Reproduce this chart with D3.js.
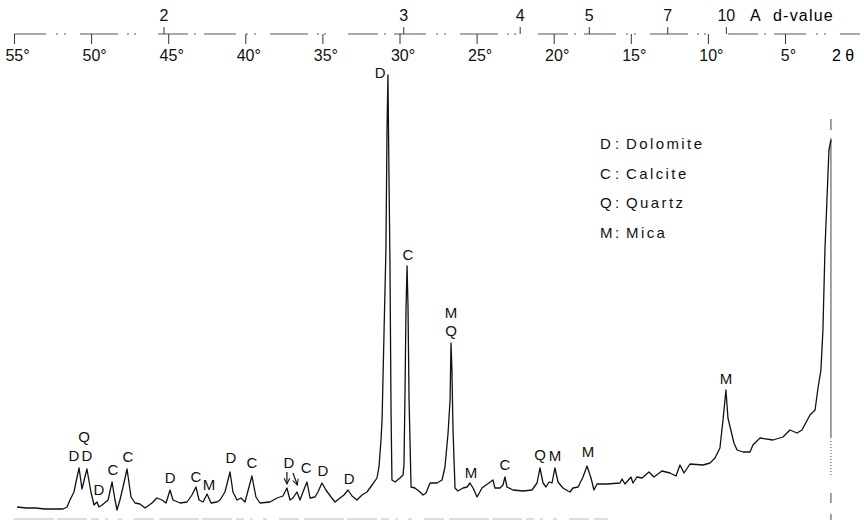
<!DOCTYPE html>
<html>
<head>
<meta charset="utf-8">
<script src="https://cdn.jsdelivr.net/npm/d3@7"></script>
<style>
  body { margin: 0; background: #fff; }
  svg { display: block; font-family: "Liberation Sans", Arial, sans-serif; }
  .axis text { font-size: 16px; fill: #111; }
  .axis line { stroke: #333; }
  .peak { font-size: 15px; fill: #111; text-anchor: middle; }
  .legend text { font-size: 15px; fill: #111; }
</style>
</head>
<body>
<div class="chart"></div>
<script>
// diffractogram: 2θ (deg, Cu Kα) and relative intensity
const twoTheta = [
  54.8, 54.2, 53.6, 53.0, 52.4, 51.82, 51.56, 51.37, 51.11, 50.95, 50.78, 50.59, 50.45, 50.27,
  50.01, 49.81, 49.62, 49.49, 49.29, 48.90, 48.64, 48.45, 48.32, 48.13, 47.93, 47.67, 47.41,
  47.15, 46.83, 46.50, 46.05, 45.73, 45.40, 45.14, 44.88, 44.69, 44.23, 43.78, 43.46, 43.20,
  43.00, 42.74, 42.48, 42.22, 41.84, 41.64, 41.32, 40.99, 40.80, 40.54, 40.28, 40.02, 39.76,
  39.57, 39.31, 39.05, 38.40, 37.94, 37.56, 37.30, 37.10, 36.91, 36.65, 36.45, 36.26, 36.00,
  35.80, 35.48, 35.29, 35.03, 34.77, 34.44, 34.18, 33.86, 33.60, 33.34, 33.08, 32.76, 32.43,
  32.11, 31.78, 31.46, 31.33, 31.20, 31.13, 31.00, 30.88, 30.81, 30.75, 30.68, 30.62, 30.55,
  30.49, 30.29, 29.97, 29.77, 29.71, 29.64, 29.58, 29.51, 29.45, 29.38, 29.25, 29.00, 28.67,
  28.48, 28.28, 28.02, 27.57, 27.24, 27.05, 26.85, 26.72, 26.66, 26.60, 26.53, 26.40, 26.21,
  25.88, 25.62, 25.43, 25.23, 24.97, 24.65, 24.39, 24.20, 23.94, 23.81, 23.48, 23.29, 23.16,
  23.03, 22.64, 21.99, 21.41, 21.08, 20.89, 20.69, 20.50, 20.30, 20.11, 19.92, 19.72, 19.40,
  19.07, 18.94, 18.75, 18.42, 18.10, 17.84, 17.58, 17.39, 17.19, 16.54, 15.70, 15.57, 15.38,
  14.99, 14.86, 14.60, 14.27, 13.82, 13.50, 12.98, 12.46, 12.07, 11.81, 11.55, 11.16, 10.32,
  9.86, 9.54, 9.22, 9.02, 8.83, 8.70, 8.31, 8.11, 7.72, 7.27, 7.08, 6.62, 5.78, 5.13, 4.68,
  4.22, 3.90, 3.38, 3.05, 2.86, 2.67, 2.54, 2.41, 2.28, 2.15, 2.02
];
const intensity = [
  3, 2, 2, 1, 1, 1, 3, 10, 18, 30, 42, 21, 30, 41,
  18, 5, 8, 3, 5, 10, 28, 10, 0, 10, 23, 41, 13,
  7, 6, 2, 7, 12, 10, 7, 20, 10, 7, 8, 15, 23,
  10, 8, 16, 7, 8, 10, 18, 38, 18, 10, 12, 8, 23,
  34, 13, 7, 8, 12, 14, 22, 10, 12, 18, 10, 18, 28,
  12, 13, 18, 27, 20, 13, 8, 12, 15, 20, 14, 10, 15,
  18, 25, 32, 43, 70, 90, 180, 260, 380, 435, 330, 250, 100,
  30, 28, 32, 35, 45, 120, 200, 244, 205, 110, 23, 22, 18,
  15, 17, 27, 27, 30, 43, 77, 110, 167, 140, 80, 22, 19,
  22, 23, 27, 22, 13, 22, 25, 27, 30, 22, 22, 25, 33,
  23, 20, 19, 20, 27, 42, 27, 23, 28, 27, 42, 28, 22,
  19, 18, 22, 23, 33, 44, 32, 20, 26, 26, 27, 31, 26,
  33, 27, 33, 32, 38, 33, 39, 37, 34, 45, 37, 46, 45,
  47, 52, 62, 90, 120, 92, 67, 60, 58, 58, 65, 72, 70, 73, 80,
  77, 80, 95, 100, 122, 140, 180, 260, 310, 360, 370
];

// axis ticks
const degreeTicks = [55, 50, 45, 40, 35, 30, 25, 20, 15, 10, 5];
const dTicks = [2, 3, 4, 5, 7, 10];   // Å
const scanStart = 2.02;

// peak labels: mineral letter, 2θ, intensity of the text baseline
const peakText = ["Q", "D", "D", "D", "C", "C", "D", "C", "M", "D", "C", "D", "C", "D", "D",
                  "D", "C", "M", "Q", "M", "C", "Q", "M", "M", "M"];
const peakPos = [50.46, 51.11, 50.27, 49.49, 48.58, 47.61, 44.88, 43.20, 42.35, 40.93, 39.57,
                 37.17, 36.06, 34.96, 33.27, 31.26, 29.45, 26.66, 26.66, 25.36, 23.16, 20.89,
                 19.92, 17.78, 8.83];
const peakLevel = [68, 49, 49, 15, 35, 48, 27, 28, 20, 47, 42, 42, 37, 34, 26, 432, 250, 192,
                   174, 32, 40, 50, 49, 53, 126];

// the two arrows under "D" near 37°: [from 2θ, from I, to 2θ, to I]
const arrows = [[37.30, 38, 37.30, 26], [36.91, 37, 36.62, 25]];

const legendKey = ["D", "C", "Q", "M"];
const legendName = ["Dolomite", "Calcite", "Quartz", "Mica"];

const width = 864, height = 521;
const lambda = 1.5406;
const braggAngle = d => 2 * Math.asin(lambda / (2 * d)) * 180 / Math.PI;

const svg = d3.select(".chart").append("svg")
    .attr("width", width)
    .attr("height", height);

const x = d3.scaleLinear().domain([55, 5]).range([14, 785]);
const y = d3.scaleLinear().domain([0, 440]).range([510, 70]);
const axisY = 34;

svg.append("defs").append("marker")
    .attr("id", "arrow")
    .attr("viewBox", "0 0 10 10")
    .attr("refX", 9).attr("refY", 5)
    .attr("markerWidth", 6).attr("markerHeight", 6)
    .attr("orient", "auto")
    .append("path")
    .attr("d", "M1,1 L9,5 L1,9")
    .attr("fill", "none")
    .attr("stroke", "#111")
    .attr("stroke-width", 1.4);

// broken axis line (scanned look)
svg.append("line")
    .attr("x1", x(55)).attr("x2", width - 4)
    .attr("y1", axisY).attr("y2", axisY)
    .attr("stroke", "#555")
    .attr("stroke-width", 1)
    .attr("stroke-dasharray", "32,10,2,6,2,14,38,9,2,5,2,22,30,6,2,8");

const gDeg = svg.append("g")
    .attr("class", "axis")
    .attr("transform", "translate(0," + axisY + ")")
    .call(d3.axisBottom(x)
        .tickValues(degreeTicks)
        .tickSize(10)
        .tickPadding(6)
        .tickFormat(d => d + "°"));
gDeg.select(".domain").remove();
gDeg.selectAll(".tick text").attr("dx", 3);

const gD = svg.append("g")
    .attr("class", "axis")
    .attr("transform", "translate(0," + axisY + ")")
    .call(d3.axisTop(x)
        .tickValues(dTicks.map(braggAngle))
        .tickSize(7)
        .tickPadding(6)
        .tickFormat((v, i) => dTicks[i]));
gD.select(".domain").remove();

svg.append("text")
    .attr("x", 750).attr("y", 21)
    .style("font-size", "16px")
    .text("A");
svg.append("text")
    .attr("x", 773).attr("y", 21)
    .style("font-size", "16px")
    .style("letter-spacing", "1.2px")
    .text("d-value");

svg.append("text")
    .attr("x", 832).attr("y", 61)
    .style("font-size", "16px")
    .text("2 θ");

// bottom scanned edge and scan-start marker
svg.append("line")
    .attr("x1", x(55)).attr("x2", x(16.5))
    .attr("y1", 519).attr("y2", 519)
    .attr("stroke", "#bbb")
    .attr("stroke-width", 1)
    .attr("stroke-dasharray", "40,3,30,4,8,6,3,10,4,12,20,5");

svg.append("line")
    .attr("x1", x(scanStart)).attr("x2", x(scanStart))
    .attr("y1", 119).attr("y2", 520)
    .attr("stroke", "#444")
    .attr("stroke-width", 1)
    .attr("stroke-dasharray", "11,8,300,3,1,2,1,2,1,2,1,2,1,2,1,2,1,2,1,2,1,2,1,2,1,2,1,18,10");

// spectrum
const line = d3.line()
    .x((d, i) => x(twoTheta[i]))
    .y((d, i) => y(intensity[i]));

svg.append("path")
    .datum(intensity)
    .attr("d", line)
    .attr("fill", "none")
    .attr("stroke", "#111")
    .attr("stroke-width", 1.3)
    .attr("stroke-linejoin", "round");

svg.append("g")
    .selectAll("text")
    .data(peakText)
    .join("text")
    .attr("class", "peak")
    .attr("x", (d, i) => x(peakPos[i]))
    .attr("y", (d, i) => y(peakLevel[i]))
    .text(d => d);

svg.append("g")
    .selectAll("line")
    .data(arrows)
    .join("line")
    .attr("x1", d => x(d[0])).attr("y1", d => y(d[1]))
    .attr("x2", d => x(d[2])).attr("y2", d => y(d[3]))
    .attr("stroke", "#111")
    .attr("stroke-width", 1.2)
    .attr("marker-end", "url(#arrow)");

const legend = svg.append("g")
    .attr("class", "legend")
    .selectAll("g")
    .data(legendKey)
    .join("g")
    .attr("transform", (d, i) => "translate(600," + (149 + i * 29.5) + ")");

legend.append("text").attr("x", 0).text(d => d);
legend.append("text").attr("x", 15).text(":");
legend.append("text")
    .attr("x", 26)
    .style("letter-spacing", "2.4px")
    .text((d, i) => legendName[i]);
</script>
</body>
</html>
